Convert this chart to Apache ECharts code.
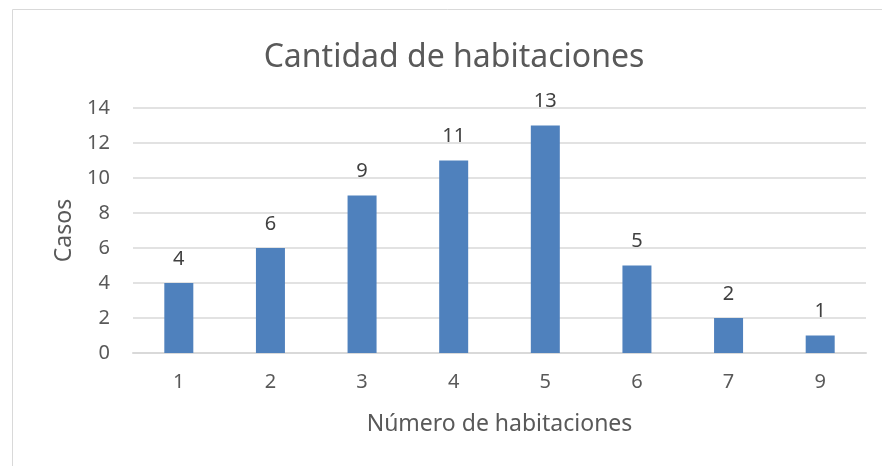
<!DOCTYPE html>
<html>
<head>
<meta charset="utf-8">
<script src="https://cdn.jsdelivr.net/npm/echarts@6/dist/echarts.min.js"></script>
<style>
	html, body { margin: 0; padding: 0; background: #fff; }
	#chart { width: 882px; height: 466px; }
</style>
</head>
<body>
<div id="chart"></div>
<script>
const habitaciones = ["1", "2", "3", "4", "5", "6", "7", "9"]
const casos = [4, 6, 9, 11, 13, 5, 2, 1]
const yTicks = { min: 0, max: 14, interval: 2 }

const font = "'Noto Sans', 'Liberation Sans', sans-serif"
const textColor = "#595959"

const chart = echarts.init(document.querySelector("#chart"))
chart.setOption({
	animation: false,
	graphic: [{
		type: "rect",
		shape: { x: 12.5, y: 9.5, width: 900, height: 500 },
		style: { fill: "none", stroke: "#d9d9d9", lineWidth: 1 },
		silent: true
	}],
	title: {
		text: "Cantidad de habitaciones",
		left: 449,
		textAlign: "center",
		top: 37,
		textStyle: { fontFamily: font, fontSize: 32, fontWeight: "normal", color: textColor }
	},
	grid: { left: 133, right: 16, top: 108, bottom: 113 },
	xAxis: {
		type: "category",
		data: habitaciones,
		name: "Número de habitaciones",
		nameLocation: "middle",
		nameGap: 60,
		nameTextStyle: { fontFamily: font, fontSize: 23, color: textColor },
		axisLine: { lineStyle: { color: "#d9d9d9", width: 2 } },
		axisTick: { show: false },
		axisLabel: { fontFamily: font, fontSize: 20, color: textColor, margin: 19 }
	},
	yAxis: {
		type: "value",
		min: yTicks.min,
		max: yTicks.max,
		interval: yTicks.interval,
		name: "Casos",
		nameLocation: "middle",
		nameGap: 57,
		nameTextStyle: { fontFamily: font, fontSize: 23, color: textColor },
		axisLine: { show: false },
		axisTick: { show: false },
		axisLabel: { fontFamily: font, fontSize: 20, color: textColor, margin: 23 },
		splitLine: { lineStyle: { color: "#d9d9d9", width: 1.5 } }
	},
	series: [{
		type: "bar",
		data: casos,
		barWidth: 29,
		itemStyle: { color: "#4f81bd" },
		label: {
			show: true,
			position: "top",
			distance: 14,
			fontFamily: font,
			fontSize: 20,
			color: "#404040"
		}
	}]
})
</script>
</body>
</html>
